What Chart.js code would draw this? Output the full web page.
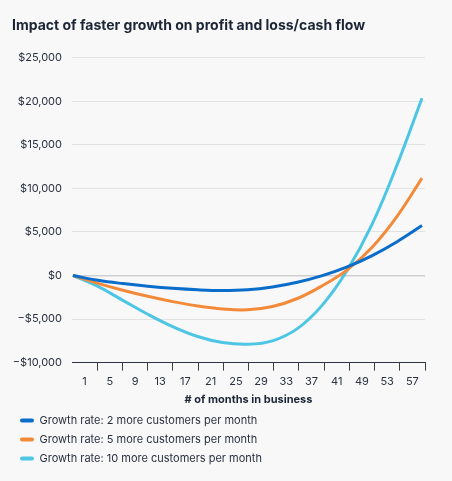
<!DOCTYPE html>
<html>
<head>
<meta charset="utf-8">
<script src="https://cdn.jsdelivr.net/npm/chart.js@4.4.1/dist/chart.umd.min.js"></script>
<style>
  html, body { margin: 0; padding: 0; background: #f8f8f8; }
  #wrap { width: 452px; height: 481px; position: relative; }
</style>
</head>
<body>
<div id="wrap"><canvas id="c"></canvas></div>
<script>
// Tick labels shown on the category axis
const monthLabels = ['1','5','9','13','17','21','25','29','33','37','41','49','53','57'];
// Sample positions along the time axis (months from start)
const months = [0,4,8,12,16,20,24,28,32,36,40,44,48,52,56];
// Series values ($)
const growth2  = [0, -550, -930, -1230, -1470, -1640, -1720, -1640, -1320, -780, -20, 980, 2280, 3880, 5730];
const growth5  = [0, -900, -1690, -2390, -3000, -3500, -3840, -3940, -3560, -2640, -1170, 650, 3250, 6800, 11180];
const growth10 = [0, -1250, -2850, -4450, -5870, -7000, -7700, -7900, -7500, -6100, -3400, 600, 5900, 12700, 20350];
const seriesNames = [
  'Growth rate: 2 more customers per month',
  'Growth rate: 5 more customers per month',
  'Growth rate: 10 more customers per month'
];
const colors = ['#0a6dcc', '#f28a3a', '#4cc6e4'];

Chart.defaults.font.family = 'Inter, "Noto Sans", sans-serif';
Chart.defaults.color = '#2a3040';

const toPts = arr => arr.map((v, i) => ({ x: months[i], y: v }));
const allSeries = [growth2, growth5, growth10];

const fmt = v => {
  const s = '$' + Math.abs(v).toLocaleString('en-US');
  return v < 0 ? '\u2212' + s : s;
};

new Chart(document.getElementById('c'), {
  type: 'line',
  data: {
    datasets: allSeries.map((arr, i) => ({
      label: seriesNames[i],
      data: toPts(arr),
      borderColor: colors[i],
      backgroundColor: colors[i],
      borderWidth: 3,
      pointRadius: 0,
      tension: 0.4,
      xAxisID: 'x',
      yAxisID: 'y'
    }))
  },
  options: {
    responsive: true,
    maintainAspectRatio: false,
    animation: false,
    layout: { padding: { left: 12, right: 27, top: 17, bottom: 7 } },
    plugins: {
      title: {
        display: true,
        text: 'Impact of faster growth on profit and loss/cash flow',
        align: 'start',
        color: '#1c2536',
        font: { size: 14, weight: 'bold' },
        padding: { top: 0, bottom: 24 }
      },
      legend: {
        position: 'bottom',
        align: 'start',
        labels: {
          boxWidth: 14,
          boxHeight: 4,
          useBorderRadius: true,
          borderRadius: 2,
          padding: 8,
          color: '#2a3040',
          font: { size: 11 },
          generateLabels: chart => Chart.defaults.plugins.legend.labels.generateLabels(chart).map(l => Object.assign(l, { lineWidth: 0 }))
        }
      },
      tooltip: { enabled: false }
    },
    scales: {
      x: {
        type: 'linear',
        display: false,
        min: -0.16,
        max: 56.48
      },
      x2: {
        type: 'category',
        position: 'bottom',
        labels: monthLabels,
        offset: true,
        grid: {
          offset: true,
          drawOnChartArea: false,
          drawTicks: true,
          tickLength: 8,
          color: ctx => (ctx.index === 0 || ctx.index === monthLabels.length) ? 'rgba(0,0,0,0)' : '#3a3f4a'
        },
        border: { display: true, color: '#2d3340', width: 1 },
        ticks: { color: '#2a3040', font: { size: 11 }, padding: 4, maxRotation: 0, autoSkip: false },
        title: {
          display: true,
          text: '# of months in business',
          color: '#1c2536',
          font: { size: 11, weight: 'bold' },
          padding: { top: 1, bottom: 1 }
        }
      },
      y: {
        type: 'linear',
        min: -10000,
        max: 25000,
        ticks: { stepSize: 5000, callback: v => fmt(v), color: '#2a3040', font: { size: 11 }, padding: 10 },
        grid: {
          drawTicks: false,
          color: ctx => ctx.tick && ctx.tick.value === 0 ? '#cfcfcf' : '#e2e2e2',
          lineWidth: ctx => ctx.tick && ctx.tick.value === 0 ? 1.5 : 1
        },
        border: { display: false },
        afterFit: s => { s.width = 60; }
      }
    }
  }
});
</script>
</body>
</html>
